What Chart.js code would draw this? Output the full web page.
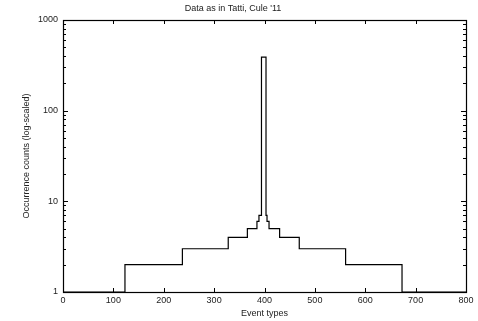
<!DOCTYPE html>
<html>
<head>
<meta charset="utf-8">
<script src="https://cdn.jsdelivr.net/npm/chart.js@4/dist/chart.umd.min.js"></script>
<style>
html, body { margin: 0; padding: 0; background: #fff; }
</style>
</head>
<body>
<canvas id="canvas" width="478" height="321"></canvas>
<script>
// step boundaries (event type where each level starts) and the count for that level
var eventTypes = [0, 123, 237, 328, 366, 385, 389, 394, 403, 405, 409, 430, 469, 561, 673, 800];
var counts     = [1, 2,   3,   4,   5,   6,   7,   390, 7,   6,   5,   4,   3,   2,   1,   1];

var xTicks = [0, 100, 200, 300, 400, 500, 600, 700, 800];
var yTicks = [1, 10, 100, 1000];

var FONT = 'Liberation Sans, Arial, Helvetica, sans-serif';

// gnuplot style box with inward ticks, mirrored on top / right
var frame = {
    id: 'frame',
    afterDatasetsDraw: function(chart){
        var ctx = chart.ctx, a = chart.chartArea;
        var xs = chart.scales.x, ys = chart.scales.y;
        ctx.save();
        ctx.strokeStyle = '#000';
        ctx.lineWidth = 1;
        ctx.beginPath();
        xTicks.forEach(function(v){
            var px = Math.round(xs.getPixelForValue(v)) + 0.5;
            ctx.moveTo(px, a.bottom); ctx.lineTo(px, a.bottom - 4);
            ctx.moveTo(px, a.top);    ctx.lineTo(px, a.top + 4);
        });
        var decades = [1, 10, 100];
        decades.forEach(function(d){
            for (var k = 1; k <= 9; k++){
                var py = Math.round(ys.getPixelForValue(d * k)) + 0.5;
                var len = (k == 1) ? 5 : 3;
                ctx.moveTo(a.left, py);  ctx.lineTo(a.left + len, py);
                ctx.moveTo(a.right, py); ctx.lineTo(a.right - len, py);
            }
        });
        var topY = Math.round(ys.getPixelForValue(1000)) + 0.5;
        ctx.moveTo(a.left, topY);  ctx.lineTo(a.left + 5, topY);
        ctx.moveTo(a.right, topY); ctx.lineTo(a.right - 5, topY);
        ctx.stroke();
        ctx.lineWidth = 1.2;
        ctx.strokeRect(Math.round(a.left) + 0.5, Math.round(a.top) + 0.5,
            Math.round(a.right - a.left), Math.round(a.bottom - a.top));
        ctx.restore();
    }
};

var points = eventTypes.map(function(x, i){
    return { x: x, y: counts[i] };
});

var ctx = document.getElementById('canvas').getContext('2d');
var myChart = new Chart(ctx, {
    type: 'line',
    data: {
        datasets: [{
            data: points,
            stepped: 'before',
            borderColor: '#000',
            borderWidth: 1.2,
            backgroundColor: 'transparent',
            pointRadius: 0,
            fill: false
        }]
    },
    options: {
        responsive: false,
        animation: false,
        devicePixelRatio: 1,
        layout: {
            padding: { left: 0, right: 12, top: 0, bottom: 0 }
        },
        plugins: {
            legend: { display: false },
            tooltip: { enabled: false },
            title: {
                display: true,
                text: "Data as in Tatti, Cule '11",
                color: '#222',
                font: { family: FONT, size: 9, weight: 'normal', lineHeight: 1.2 },
                padding: { top: 3, bottom: 6.2 }
            }
        },
        scales: {
            x: {
                type: 'linear',
                min: 0,
                max: 800,
                afterBuildTicks: function(scale){
                    scale.ticks = xTicks.map(function(v){ return { value: v }; });
                },
                afterFit: function(scale){ scale.height = 29; },
                grid: { display: false, drawTicks: false },
                border: { display: false },
                ticks: {
                    color: '#222',
                    padding: 3,
                    maxRotation: 0,
                    font: { family: FONT, size: 9 }
                },
                title: {
                    display: true,
                    text: 'Event types',
                    color: '#222',
                    font: { family: FONT, size: 9 },
                    padding: { top: 0, bottom: 2 }
                }
            },
            y: {
                type: 'logarithmic',
                min: 1,
                max: 1000,
                afterBuildTicks: function(scale){
                    scale.ticks = yTicks.map(function(v){ return { value: v }; });
                },
                afterFit: function(scale){ scale.width = 63; },
                grid: { display: false, drawTicks: false },
                border: { display: false },
                ticks: {
                    color: '#222',
                    padding: 5,
                    font: { family: FONT, size: 9 },
                    callback: function(v){ return String(v); }
                },
                title: {
                    display: true,
                    text: 'Occurrence counts (log-scaled)',
                    color: '#222',
                    font: { family: FONT, size: 9 },
                    padding: { top: 21, bottom: 0 }
                }
            }
        }
    },
    plugins: [frame]
});
</script>
</body>
</html>
